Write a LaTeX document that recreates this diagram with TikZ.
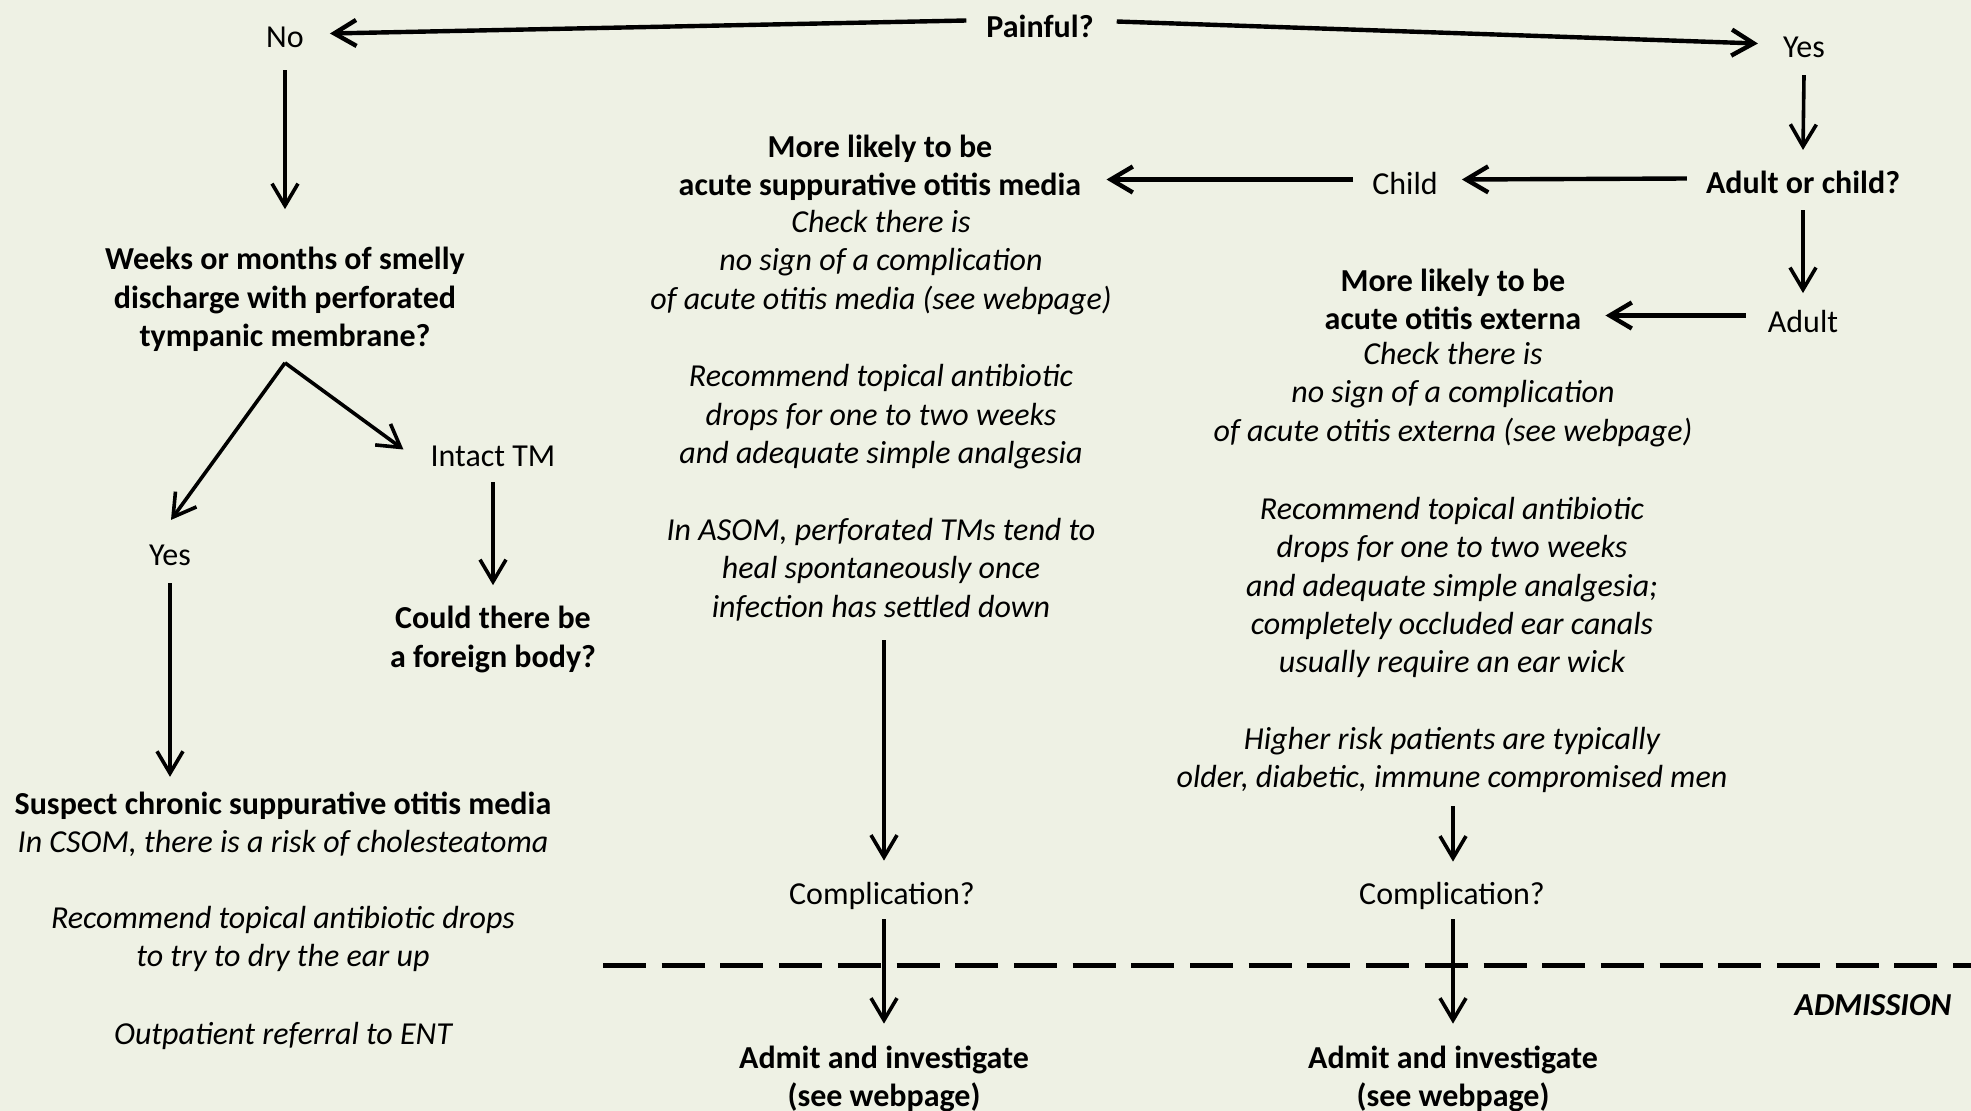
\documentclass[tikz,border=0pt]{standalone}
\usepackage{fontspec}
\setmainfont{Carlito}
\usetikzlibrary{arrows.meta,calc}
\definecolor{bg}{RGB}{238,241,228}
\definecolor{ink}{RGB}{0,0,0}
\begin{document}
\begin{tikzpicture}[x=1pt,y=-1pt,
  every node/.style={inner sep=0pt,align=center,text=ink},
  lbl/.style={font=\fontsize{32}{38.4}\selectfont},
  bld/.style={font=\fontsize{32}{38.4}\selectfont\bfseries},
  itl/.style={font=\fontsize{32}{38.4}\selectfont\itshape},
  bit/.style={font=\fontsize{32}{38.4}\selectfont\bfseries\itshape},
  arr/.style={draw=ink,line width=3.6pt,-{Straight Barb[length=22pt,width=26pt]}},
  arrT/.style={arr,line width=4.4pt},
  sep/.style={draw=ink,line width=5pt,dash pattern=on 43pt off 15.7pt}
]
\fill[bg] (0,0) rectangle (1971,1111);
\useasboundingbox (0,0) rectangle (1971,1111);

\begin{scope}[shift={(0,2.5)}]
% top
\node[bld] (painful) at (1040,24) {Painful?};
\node[lbl] (no) at (285,35) {No};
\node[lbl] (yesT) at (1804,45) {Yes};

% left branch
\node[bld] (weeks) at (285,297) {Weeks or months of smelly\\discharge with perforated\\tympanic membrane?};
\node[lbl] (intact) at (493,454) {Intact TM};
\node[lbl] (yesL) at (170,553) {Yes};
\node[bld] (foreign) at (493,637) {Could there be\\a foreign body?};
\node[lbl] (csom) at (283,822) {\textbf{Suspect chronic suppurative otitis media}\\\textit{In CSOM, there is a risk of cholesteatoma}};
\node[itl] (dry) at (283,936.5) {Recommend topical antibiotic drops\\to try to dry the ear up};
\node[itl] (ent) at (283,1033) {Outpatient referral to ENT};

% middle branch
\node[bld] (asomh) at (880,165) {More likely to be\\acute suppurative otitis media};
\node[itl] (asomd) at (881,260) {Check there is\\no sign of a complication\\of acute otitis media (see webpage)};
\node[itl] (rx1) at (881,414.5) {Recommend topical antibiotic\\drops for one to two weeks\\and adequate simple analgesia};
\node[itl] (heal) at (881,567) {In ASOM, perforated TMs tend to\\heal spontaneously once\\infection has settled down};
\node[lbl] (comp1) at (882,893) {Complication?};
\node[bld] (admit1) at (884,1076.5) {Admit and investigate\\(see webpage)};

% right branch
\node[bld] (aoc) at (1803,180) {Adult or child?};
\node[lbl] (child) at (1405,181) {Child};
\node[lbl] (adult) at (1803,319) {Adult};
\node[bld] (aoeh) at (1453,297) {More likely to be\\acute otitis externa};
\node[itl] (aoed) at (1453,392) {Check there is\\no sign of a complication\\of acute otitis externa (see webpage)};
\node[itl] (rx2) at (1452,585) {Recommend topical antibiotic\\drops for one to two weeks\\and adequate simple analgesia;\\completely occluded ear canals\\usually require an ear wick};
\node[itl] (risk) at (1452,757.5) {Higher risk patients are typically\\older, diabetic, immune compromised men};
\node[lbl] (comp2) at (1452,893) {Complication?};
\node[bld] (admit2) at (1453,1076.5) {Admit and investigate\\(see webpage)};
\node[bit] (adm) at (1873,1003) {ADMISSION};
\end{scope}

% admission line
\coordinate (sepL) at (603,965);
\coordinate (sepR) at (1971,965);
\draw[sep] (sepL) -- (sepR);

% connectors
\draw[arrT] ([shift={(-20,-6)}]painful.west) -- ([shift={(26,-4)}]no.east);
\draw[arrT] ([shift={(23,-5)}]painful.east) -- ([shift={(-25,-4)}]yesT.west);
\draw[arr] ([shift={(0,22)}]no.south) -- ([shift={(0,-38)}]weeks.north);
\coordinate (fork) at ([shift={(0,11)}]weeks.south);
\draw[arr] (fork) -- ([shift={(1,-25)}]yesL.north);
\draw[arr] (fork) -- ([shift={(-27,-7)}]intact.west);
\draw[arr] ([shift={(0,17)}]yesL.south) -- ([shift={(0,-15)}]yesL.south |- csom.north);
\draw[arr] ([shift={(0,15)}]intact.south) -- ([shift={(0,-21)}]foreign.north);

\draw[arr] ([shift={(0,17)}]yesT.south) -- ([shift={(0,-21)}]aoc.north);
\draw[arrT] ([shift={(-19,-4)}]aoc.west) -- ([shift={(24,-4)}]child.east);
\draw[arrT] ([shift={(-19,-4)}]child.west) -- ([shift={(25,-4)}]asomh.east |- child.west);
\draw[arr] ([shift={(0,16)}]aoc.south) -- ([shift={(0,-17)}]adult.north);
\draw[arrT] ([shift={(-22,-6)}]adult.west) -- ([shift={(24,-6)}]aoeh.east |- adult.west);

\draw[arr] ([shift={(0,19)}]heal.south -| admit1.north) -- ([shift={(0,-21)}]comp1.north -| admit1.north);
\draw[arr] ([shift={(0,10)}]comp1.south -| admit1.north) -- ([shift={(0,-22)}]admit1.north);
\draw[arr] ([shift={(0,13)}]risk.south -| admit2.north) -- ([shift={(0,-20)}]comp2.north -| admit2.north);
\draw[arr] ([shift={(0,10)}]comp2.south -| admit2.north) -- ([shift={(0,-22)}]admit2.north);
\end{tikzpicture}
\end{document}
